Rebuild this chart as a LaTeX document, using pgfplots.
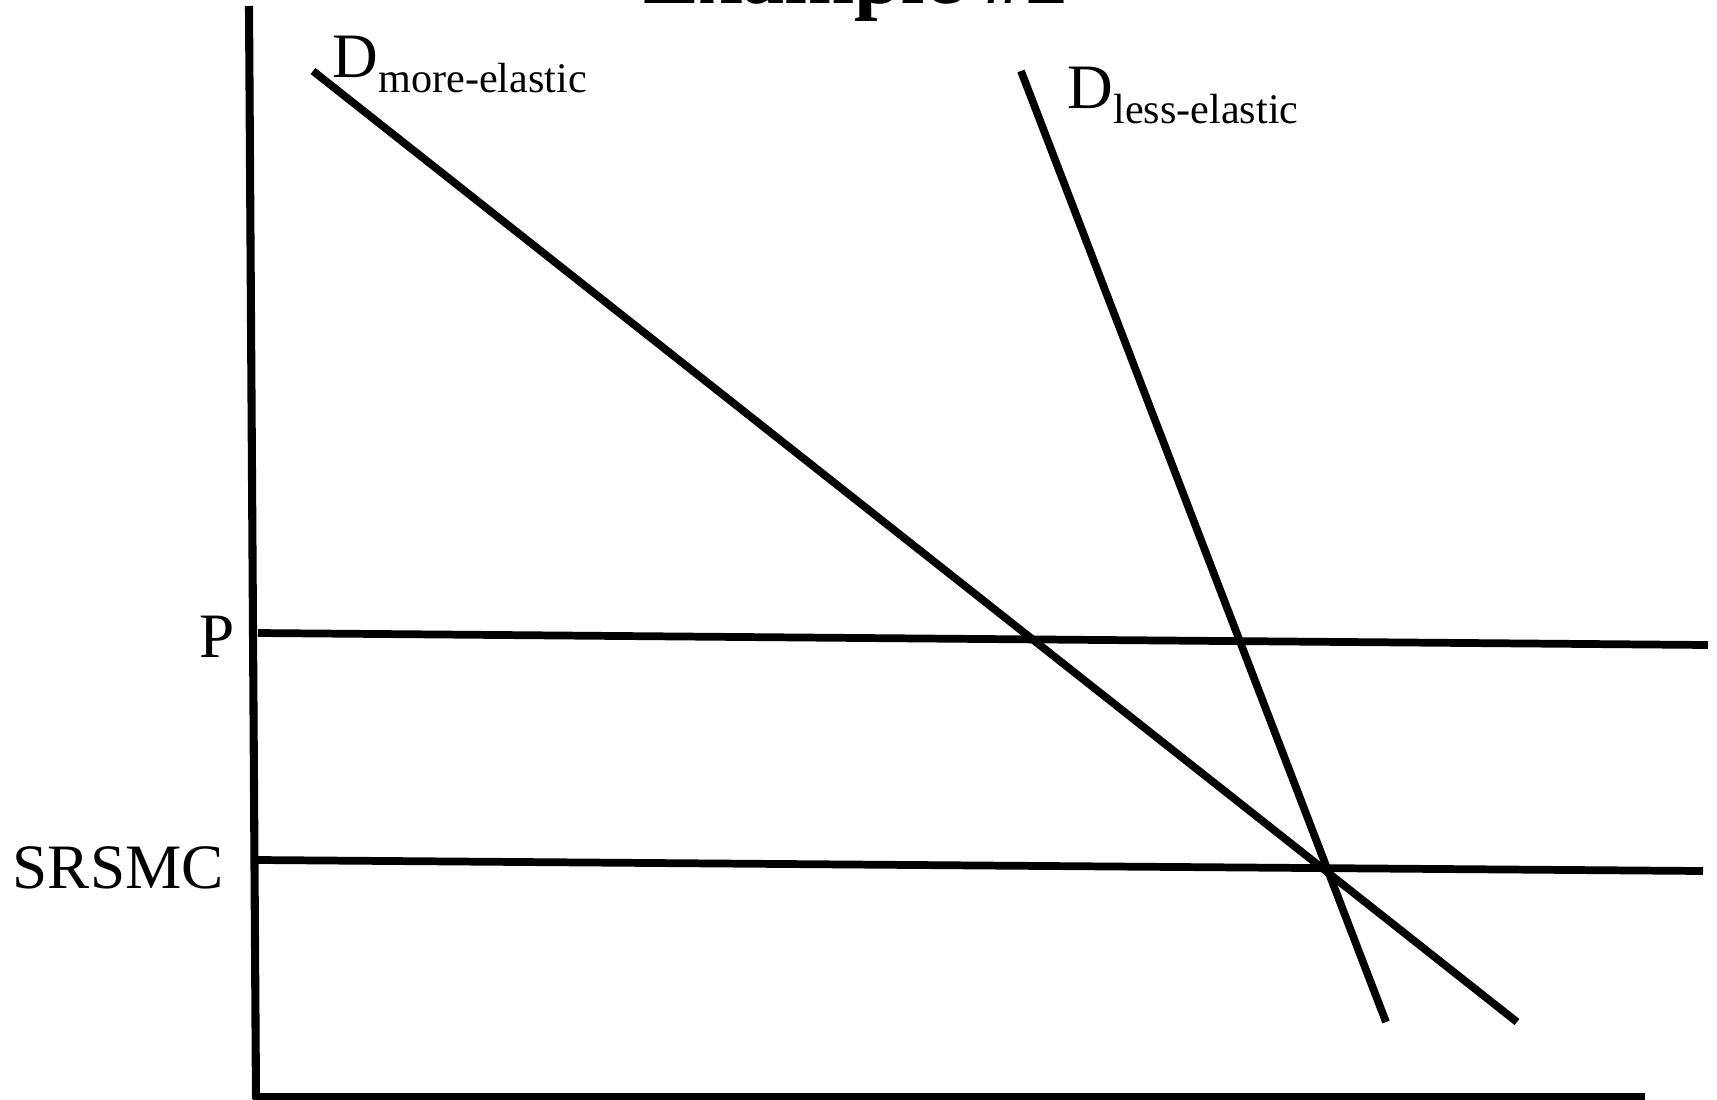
\documentclass[border=0pt]{standalone}
\usepackage{pgfplots}
\pgfplotsset{compat=1.18}
\usepackage{fontspec}
\setmainfont{Liberation Serif}
\begin{document}
\begin{tikzpicture}
\path[use as bounding box] (0,0) rectangle (17.17cm,10.99cm);
\clip (0,0) rectangle (17.17cm,10.99cm);
\begin{axis}[
  at={(0,0)}, anchor=south west,
  scale only axis, width=17.17cm, height=10.99cm,
  xmin=0, xmax=1717, ymin=0, ymax=1099, y dir=reverse,
  hide axis, clip=false,
]
% axes
\addplot[black, line width=2.3pt] coordinates {(249,6) (256,1099)};
\addplot[black, line width=2.2pt] coordinates {(253,1097) (1645,1097)};
% P and SRSMC lines
\addplot[black, line width=2.2pt] coordinates {(258,633) (1708,645)};
\addplot[black, line width=2.2pt] coordinates {(258,860) (1703,871)};
% demand curves
\addplot[black, line width=2.2pt] coordinates {(313,71) (1517,1022)};
\addplot[black, line width=2.2pt] coordinates {(1021,71) (1386,1022)};
% labels
\node[anchor=base, inner sep=0] at (axis cs:856,3) {\fontsize{24pt}{28pt}\selectfont\bfseries Example \#2};
\node[anchor=base west, inner sep=0] at (axis cs:332,77) {\fontsize{18pt}{20pt}\selectfont D\raisebox{-1.5mm}{\fontsize{12pt}{14pt}\selectfont more-elastic}};
\node[anchor=base west, inner sep=0] at (axis cs:1067,108) {\fontsize{18pt}{20pt}\selectfont D\raisebox{-1.5mm}{\fontsize{12pt}{14pt}\selectfont less-elastic}};
\node[anchor=base west, inner sep=0] at (axis cs:199,657) {\fontsize{18pt}{20pt}\selectfont P};
\node[anchor=base west, inner sep=0] at (axis cs:12,888) {\fontsize{18pt}{20pt}\selectfont SRSMC};
\end{axis}
\end{tikzpicture}
\end{document}
